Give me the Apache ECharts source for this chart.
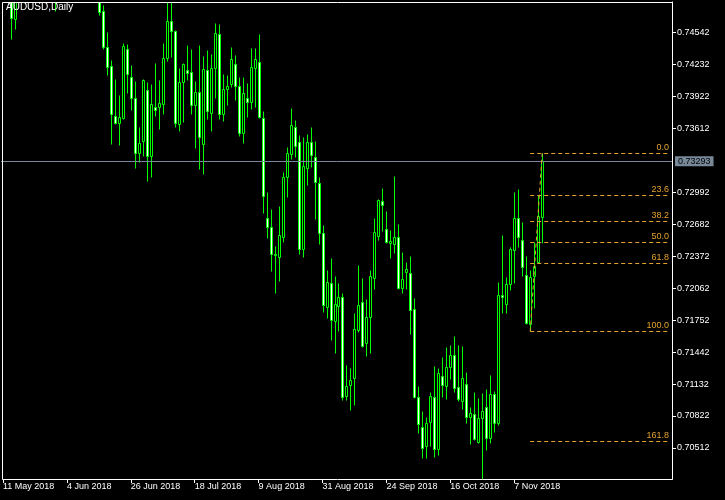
<!DOCTYPE html>
<html><head><meta charset="utf-8">
<script src="https://cdn.jsdelivr.net/npm/echarts@6/dist/echarts.min.js"></script>
<style>html,body{margin:0;padding:0;background:#000;}#c{width:725px;height:500px;}</style>
</head><body><div id="c"></div>
<script>
const chartTitle = 'AUDUSD,Daily';
const startDate = '2018-05-11';
const slotCount = 168;
const opens = [0.7530,0.7536,0.7520,0.74670,0.7505,0.7500,0.7520,0.7540,0.7590,0.7545,0.7570,0.7555,0.7550,0.7510,0.7565,0.7565,0.7570,0.7600,0.7610,0.7665,0.7630,0.7600,0.7605,0.7570,0.7590,
0.74750,0.74398,0.74217,0.73732,0.73667,0.73712,0.74379,0.74107,0.73904,0.73376,0.73492,0.73984,0.73347,0.73819,0.73816,0.73851,0.74297,0.74653,0.74556,0.73654,0.74059,0.74178,0.74159,0.73839,0.73962,
0.73463,0.74175,0.73764,0.74195,0.74524,0.73748,0.73991,0.74039,0.74233,0.74020,0.73564,0.73904,0.73865,0.74195,0.74253,0.73710,0.72740,0.72652,0.72393,0.72361,0.72561,0.73143,0.73363,0.73628,0.73477,
0.72439,0.73225,0.73477,0.73337,0.73079,0.72594,0.71882,0.72115,0.71746,0.71892,0.71973,0.71019,0.71123,0.71193,0.71656,0.71925,0.71527,0.71779,0.72160,0.72571,0.72904,0.72633,0.72497,0.72490,0.72561,
0.72061,0.72216,0.72206,0.71857,0.71003,0.70712,0.70534,0.70761,0.71009,0.70499,0.71213,0.71113,0.71294,0.71411,0.71100,0.70970,0.71129,0.70809,0.70838,0.70573,0.70800,0.70906,0.70606,0.71032,0.70757,
0.71996,0.71905,0.72099,0.72432,0.72740,0.72529,0.72190,0.71714,0.72183,0.72319,0.72755];
const highs = [0.7550,0.7550,0.7525,0.7505,0.7525,0.7525,0.7550,0.7605,0.7595,0.7580,0.7580,0.7575,0.7560,0.7575,0.7580,0.7590,0.7615,0.7625,0.7675,0.7675,0.7640,0.7615,0.7615,0.7600,0.7595,
0.74809,0.74547,0.74275,0.74091,0.73936,0.74443,0.74430,0.74227,0.74071,0.73628,0.74091,0.74059,0.74042,0.74249,0.74081,0.74443,0.7490,0.7492,0.74566,0.74200,0.74250,0.74421,0.74382,0.74071,0.74421,
0.74314,0.74372,0.74333,0.74637,0.74624,0.74139,0.74130,0.74401,0.74324,0.74107,0.74107,0.74052,0.74391,0.74391,0.74530,0.73783,0.72995,0.72830,0.72471,0.72859,0.73186,0.73431,0.73807,0.73693,0.73548,
0.73531,0.73557,0.73628,0.73489,0.73137,0.72675,0.72238,0.72352,0.72180,0.72109,0.72012,0.71317,0.71285,0.71818,0.72287,0.72163,0.71954,0.72238,0.72740,0.72925,0.73031,0.72810,0.72626,0.73150,0.72684,
0.72410,0.72313,0.72374,0.71964,0.71113,0.70870,0.70815,0.71052,0.71307,0.71285,0.71391,0.71488,0.71508,0.71598,0.71508,0.71501,0.71246,0.70912,0.71058,0.70999,0.71042,0.71084,0.71220,0.71064,0.72125,
0.72578,0.72173,0.72458,0.72998,0.73024,0.72707,0.72374,0.72238,0.72513,0.72966,0.73370];
const lows = [0.7510,0.7515,0.74476,0.74573,0.7490,0.7488,0.7505,0.7535,0.7520,0.7535,0.7545,0.7540,0.7500,0.74750,0.7550,0.7555,0.7565,0.7590,0.7600,0.7620,0.7580,0.7585,0.7560,0.7555,0.74712,
0.74382,0.74130,0.73460,0.73654,0.73451,0.73703,0.73952,0.73790,0.73225,0.73289,0.73344,0.73101,0.73143,0.73735,0.73606,0.73751,0.74265,0.74301,0.73628,0.73589,0.73677,0.74081,0.73751,0.73424,0.73218,
0.73172,0.73703,0.73589,0.73909,0.73706,0.73686,0.73839,0.74016,0.73887,0.73538,0.73473,0.73725,0.73800,0.73822,0.73710,0.72794,0.72551,0.72228,0.72018,0.72134,0.72510,0.72949,0.73312,0.73337,0.72393,
0.72367,0.73063,0.73240,0.72736,0.72487,0.71831,0.71772,0.71559,0.71436,0.71646,0.70977,0.70977,0.70880,0.70929,0.71640,0.71488,0.71407,0.71436,0.72054,0.72529,0.72616,0.72503,0.72352,0.72400,0.72051,
0.72018,0.72054,0.71614,0.70992,0.70654,0.70417,0.70412,0.70534,0.70427,0.70444,0.71009,0.70984,0.71184,0.71058,0.70970,0.70887,0.70757,0.70547,0.70589,0.70557,0.70210,0.70492,0.70557,0.70664,0.70735,
0.71818,0.71818,0.72044,0.72115,0.72464,0.72180,0.71711,0.71643,0.71867,0.72303,0.72497];
const closes = [0.7535,0.7520,0.74682,0.7495,0.7500,0.7515,0.7540,0.7590,0.7545,0.7570,0.7560,0.7550,0.7510,0.7565,0.7565,0.7570,0.7600,0.7610,0.7665,0.7630,0.7600,0.7605,0.7570,0.7590,0.74744,
0.74404,0.74210,0.73751,0.73664,0.73719,0.74411,0.74136,0.73904,0.73370,0.73467,0.74081,0.73347,0.73845,0.73790,0.73855,0.74292,0.74653,0.74559,0.73661,0.74059,0.74233,0.74152,0.73839,0.73962,0.73525,
0.74185,0.73777,0.74195,0.74534,0.73754,0.73991,0.74020,0.74282,0.74026,0.73570,0.73952,0.73865,0.74204,0.74282,0.73719,0.72956,0.72652,0.72390,0.72381,0.72575,0.73143,0.73370,0.73642,0.73444,0.72439,
0.73250,0.73477,0.73351,0.73095,0.72600,0.71899,0.72125,0.71753,0.71905,0.71973,0.71009,0.71116,0.71171,0.71663,0.71899,0.71504,0.71779,0.72180,0.72604,0.72917,0.72871,0.72513,0.72519,0.72561,0.72061,
0.72148,0.72245,0.71850,0.71009,0.70744,0.70509,0.70757,0.71019,0.70499,0.71236,0.71123,0.71300,0.71411,0.71091,0.70984,0.71188,0.70809,0.70848,0.70596,0.70800,0.70870,0.70606,0.71032,0.70757,0.71996,
0.71973,0.72099,0.72442,0.72740,0.72561,0.72270,0.71721,0.72167,0.72280,0.72762,0.73293];
const priceTicks = [0.74542,0.74232,0.73922,0.73612,0.72992,0.72682,0.72372,0.72062,0.71752,0.71442,0.71132,0.70822,0.70512];
const dateLabelEvery = 16;
const bidPrice = 0.73293;
const fibLevels = [0, 23.6, 38.2, 50, 61.8, 100, 161.8];
const fibLowIndex = 132;
const fibHighIndex = 135;

const monthNames = ['Jan','Feb','Mar','Apr','May','Jun','Jul','Aug','Sep','Oct','Nov','Dec'];
function tradingDays(start, count) {
  const out = [];
  const d = new Date(start + 'T00:00:00Z');
  while (out.length < count) {
    const w = d.getUTCDay();
    if (w !== 0 && w !== 6) out.push(d.toISOString().slice(0, 10));
    d.setUTCDate(d.getUTCDate() + 1);
  }
  return out;
}
const dates = tradingDays(startDate, slotCount);
const n = opens.length;
const candleRows = opens.map((o, i) => [i, o, closes[i], lows[i], highs[i]]);
function fmtDate(s) {
  const p = s.split('-');
  return (+p[2]) + ' ' + monthNames[+p[1] - 1] + ' ' + p[0];
}
const fibHigh = highs[fibHighIndex];
const fibLow = lows[fibLowIndex];
const fibColor = '#e3a232';
const candleGreen = '#00ff00';
const font = 'Liberation Sans';
const showDate = (i) => i % dateLabelEvery === 0 && i < n;

const fibLines = fibLevels.map(l => {
  const price = fibHigh - (fibHigh - fibLow) * l / 100;
  return [{ coord: [fibLowIndex, price], name: l.toFixed(1) }, { coord: [slotCount - 1, price] }];
});
fibLines.push([
  { coord: [fibLowIndex, fibLow], label: { show: false } },
  { coord: [fibHighIndex, fibHigh], label: { show: false } }
]);

function renderCandle(params, api) {
  const i = api.value(0);
  const o = api.value(1), c = api.value(2), l = api.value(3), h = api.value(4);
  const po = api.coord([i, o]);
  const pc = api.coord([i, c]);
  const pl = api.coord([i, l]);
  const ph = api.coord([i, h]);
  const x = Math.round(po[0]);
  const top = Math.round(Math.min(po[1], pc[1]));
  const bot = Math.round(Math.max(po[1], pc[1]));
  const bull = c > o;
  return {
    type: 'group',
    children: [
      { type: 'line', shape: { x1: x + 0.5, y1: Math.round(ph[1]) + 0.5, x2: x + 0.5, y2: Math.round(pl[1]) + 0.5 },
        style: { stroke: candleGreen, lineWidth: 1 } },
      { type: 'rect', shape: { x: x - 0.5, y: top + 0.5, width: 2, height: Math.max(bot - top, 0) },
        style: { fill: bull ? '#000' : '#fff', stroke: candleGreen, lineWidth: 1 } }
    ]
  };
}

const chart = echarts.init(document.getElementById('c'), null, { renderer: 'canvas' });
chart.setOption({
  backgroundColor: '#000',
  animation: false,
  title: {
    text: chartTitle, left: 6, top: 2, padding: 0,
    textStyle: { color: '#fff', fontSize: 10, fontWeight: 'normal', fontFamily: font }
  },
  graphic: [{
    type: 'rect', silent: true, z: 100,
    shape: { x: 2.5, y: 2.5, width: 670, height: 477 },
    style: { fill: 'none', stroke: '#fff', lineWidth: 1 }
  }],
  grid: { left: 0, top: 2, right: 53, bottom: 21, show: false },
  xAxis: {
    type: 'category', data: dates, boundaryGap: true,
    axisLine: { show: false },
    axisTick: { show: true, alignWithLabel: true, interval: (i) => showDate(i), length: 4, lineStyle: { color: '#fff' } },
    axisLabel: { interval: (i) => showDate(i), formatter: fmtDate, color: '#fff', fontSize: 9, fontFamily: font, align: 'left', margin: 3 },
    splitLine: { show: false }
  },
  yAxis: {
    type: 'value', position: 'right', min: 0.70211, max: 0.74838,
    axisLine: { show: true, lineStyle: { color: '#fff', width: 1 } },
    axisTick: { show: true, length: 4, customValues: priceTicks, lineStyle: { color: '#fff' } },
    axisLabel: { customValues: priceTicks, formatter: v => v.toFixed(5), color: '#fff', fontSize: 9, fontFamily: font, margin: 5 },
    splitLine: { show: false }
  },
  series: [
    {
      type: 'line', data: [], silent: true, clip: false, z: 1,
      markLine: {
        symbol: 'none', silent: true, animation: false, precision: 5,
        lineStyle: { color: '#778899', type: 'solid', width: 1 },
        label: {
          position: 'end', formatter: bidPrice.toFixed(5), backgroundColor: '#778899', color: '#000',
          padding: [1, 3, 0, 3], fontSize: 9, fontFamily: font, distance: 3
        },
        data: [{ yAxis: bidPrice }]
      }
    },
    {
      type: 'custom', data: candleRows, renderItem: renderCandle, clip: true, z: 3, silent: true,
      encode: { x: 0, y: [1, 2, 3, 4] }
    },
    {
      type: 'line', data: [], silent: true, clip: false, z: 4,
      markLine: {
        symbol: 'none', silent: true, animation: false, precision: 5,
        lineStyle: { color: fibColor, type: [4, 3], width: 1 },
        label: { position: 'insideEndTop', formatter: '{b}', color: fibColor, fontSize: 9, fontFamily: font, distance: 1 },
        data: fibLines
      }
    }
  ]
});
</script>
</body></html>
